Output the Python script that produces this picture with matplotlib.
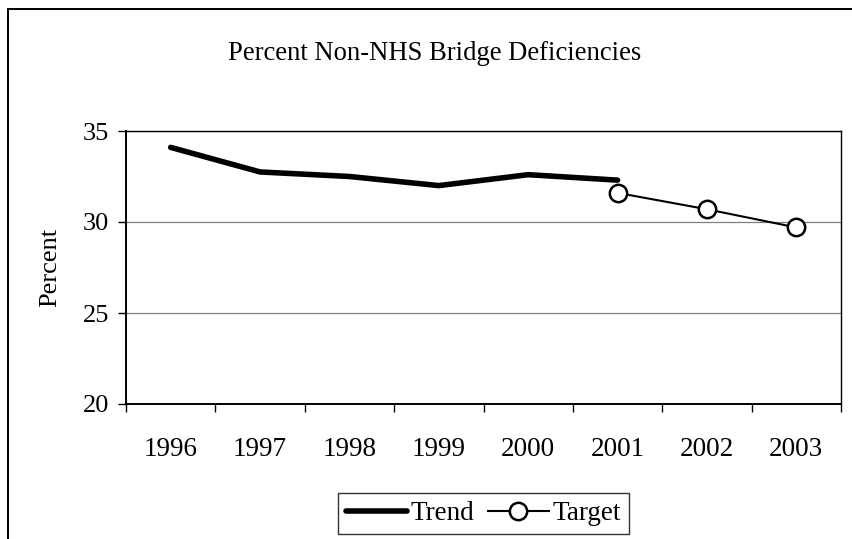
import matplotlib
matplotlib.use("Agg")
import matplotlib.pyplot as plt
from matplotlib.patches import Rectangle

title = "Percent Non-NHS Bridge Deficiencies"
years = ["1996", "1997", "1998", "1999", "2000", "2001", "2002", "2003"]
trend = [34.1, 32.75, 32.5, 32.0, 32.6, 32.3]
target_years = ["2001", "2002", "2003"]
target = [31.6, 30.7, 29.7]
yticks = [20, 25, 30, 35]

plt.rcParams['font.family'] = ['Liberation Serif', 'DejaVu Serif']

W, H = 852, 539
fig = plt.figure(figsize=(W/100, H/100), dpi=100)
fig.patch.set_facecolor("white")

# outer frame (right and bottom edges run off the canvas)
fig.patches.append(Rectangle((8/W, -0.1), 1.2, 1 - 9/H + 0.1, transform=fig.transFigure,
                             fill=False, edgecolor="black", linewidth=1.4))

ax = fig.add_axes([126/W, 1 - 404/H, (841-126)/W, (404-131)/H])
n = len(years)
xs = [i + 0.5 for i in range(n)]
ax.set_xlim(0, n)
ax.set_ylim(20, 35)

for y in yticks[1:]:
    ax.axhline(y, color="#808080", linewidth=0.9, zorder=1)

ax.plot(xs[:len(trend)], trend, color="black", linewidth=4.0, solid_capstyle="round",
        solid_joinstyle="round", label="Trend", zorder=3)
tx = [xs[years.index(y)] for y in target_years]
ax.plot(tx, target, color="black", linewidth=1.5, marker="o", markersize=12.5,
        markerfacecolor="white", markeredgecolor="black", markeredgewidth=1.8,
        label="Target", zorder=4)

ax.set_yticks(yticks)
ax.set_yticklabels([str(v) for v in yticks], fontsize=19)
ax.set_xticks(range(n + 1))
ax.set_xticklabels([])
ax.set_xticks(xs, minor=True)
ax.set_xticklabels(years, minor=True, fontsize=19.5)
ax.tick_params(axis="x", which="minor", length=0, pad=24)
ax.tick_params(axis="x", which="major", length=6, width=1, direction="out")
ax.tick_params(axis="y", length=6, width=1, direction="out", pad=6)

for s in ["top", "right"]:
    ax.spines[s].set_linewidth(1.0)
for s in ["left", "bottom"]:
    ax.spines[s].set_linewidth(1.4)

ax.set_ylabel("Percent", fontsize=19, labelpad=16)

fig.text(435/W, 1 - 53/H, title, ha="center", va="center", fontsize=19.2)

leg = ax.legend(loc="center", bbox_to_anchor=(((339+628)/2 - 126)/(841-126), (404 - 513.5)/(404-131)),
                ncol=2, fontsize=19.5, frameon=True, fancybox=False, handlelength=2.25,
                handletextpad=0.15, columnspacing=0.5, borderpad=0.3, borderaxespad=0)
leg.get_frame().set_edgecolor("black")
leg.get_frame().set_linewidth(1.0)
leg.legend_handles[0].set_solid_capstyle("round")

fig.savefig("out.png", dpi=100)
